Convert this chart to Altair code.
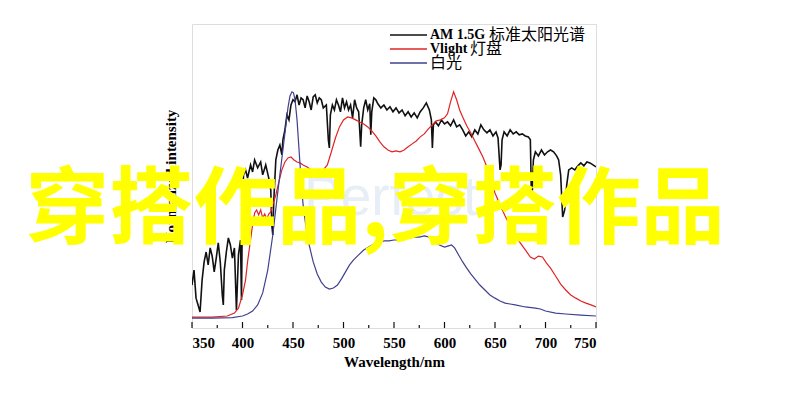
import altair as alt
import pandas as pd

# ---- data (arbitrary normalized units, white-light peak = 100) ----
wl_am = [350, 352, 354, 356, 358, 360, 362, 364, 366, 368, 370, 372, 374, 376, 378, 380, 381, 382, 384, 386,
         388, 390, 392, 394, 396, 398, 399, 400, 401, 403, 405, 408, 410, 412, 415, 418, 420, 423, 426, 428,
         429, 430, 431, 433, 435, 437, 439, 440, 442, 444, 446, 448, 450, 452, 454, 456, 458, 460, 462, 464,
         466, 468, 470, 472, 474, 476, 478, 480, 483, 485, 486, 487, 489, 491, 493, 495, 497, 499, 501, 503,
         505, 507, 509, 511, 513, 515, 517, 518, 520, 522, 524, 526, 527, 528, 530, 532, 534, 537, 540, 543,
         546, 549, 552, 555, 558, 561, 564, 567, 570, 573, 576, 579, 582, 585, 587, 588, 589, 591, 594, 597,
         600, 603, 606, 609, 612, 615, 618, 621, 624, 627, 630, 633, 636, 639, 642, 645, 648, 651, 653, 655,
         656, 657, 659, 662, 665, 668, 671, 674, 677, 680, 683, 685, 686, 687, 688, 690, 693, 696, 699, 702,
         705, 708, 711, 713, 715, 717, 719, 721, 723, 726, 729, 732, 735, 738, 741, 744, 747, 750]
am = [14.6, 21.2, 8.8, 5.8, 2.7, 16.8, 24.8, 29.2, 23.5, 31.0, 27.4, 20.4, 26.5, 33.2, 24.8, 10.2, 5.8, 21.2, 29.2, 35.4,
      32.3, 26.5, 31.0, 3.5, 27.9, 34.5, 8.0, 52.2, 63.3, 65.5, 61.9, 67.7, 64.6, 69.9, 66.4, 69.0, 63.3, 67.7, 61.9, 56.6,
      41.2, 36.7, 52.2, 69.9, 74.3, 76.5, 72.1, 78.8, 83.2, 89.8, 87.6, 94.2, 96.5, 95.6, 98.7, 94.2, 97.3, 96.5, 92.9, 98.2,
      95.6, 92.0, 97.8, 98.7, 95.1, 97.3, 96.5, 92.9, 94.2, 78.8, 75.2, 89.8, 94.2, 92.0, 96.5, 94.2, 91.2, 97.3, 92.9, 95.6,
      92.0, 94.2, 88.5, 96.5, 92.9, 91.2, 75.7, 85.4, 92.9, 96.5, 92.0, 94.7, 81.0, 91.2, 97.3, 96.5, 94.7, 92.9, 94.2, 92.0,
      93.4, 91.2, 92.9, 90.7, 92.0, 89.4, 91.2, 88.9, 90.7, 88.5, 91.2, 92.9, 95.1, 92.0, 87.6, 75.2, 85.4, 86.7, 85.0, 87.6,
      85.8, 86.7, 85.0, 87.6, 84.5, 85.4, 83.2, 80.5, 82.3, 80.1, 83.2, 81.4, 85.4, 83.2, 81.9, 83.2, 80.5, 82.3, 79.6, 65.5,
      67.7, 78.8, 82.3, 80.5, 83.2, 81.4, 82.3, 81.0, 81.4, 80.5, 80.1, 78.8, 55.3, 56.6, 69.9, 73.5, 71.7, 74.3, 72.1, 73.5,
      74.3, 73.5, 71.7, 69.9, 63.3, 44.7, 47.8, 58.8, 65.5, 66.4, 65.5, 67.3, 68.6, 67.3, 69.0, 68.6, 67.7, 66.8]

wl_vl = [350, 370, 385, 392, 396, 400, 403, 405, 407, 410, 412, 414, 416, 418, 420, 422, 424, 426, 428, 430,
         433, 436, 439, 442, 445, 448, 451, 454, 457, 460, 464, 468, 472, 476, 480, 484, 488, 492, 496, 500,
         504, 508, 512, 516, 520, 524, 528, 532, 536, 540, 544, 548, 552, 556, 560, 564, 568, 572, 576, 580,
         584, 588, 592, 596, 600, 603, 606, 609, 612, 615, 618, 622, 626, 630, 634, 638, 642, 646, 650, 655,
         660, 665, 670, 675, 680, 685, 689, 693, 697, 701, 705, 710, 715, 720, 725, 730, 735, 740, 745, 750]
vl = [0.4, 0.4, 0.9, 2.2, 4.4, 10.2, 16.8, 24.8, 31.4, 41.2, 46.5, 47.8, 45.6, 47.8, 44.2, 46.0, 43.8, 46.0, 46.9, 50.0,
      54.4, 60.2, 65.5, 69.0, 70.8, 71.2, 69.9, 69.0, 68.6, 67.7, 66.8, 65.5, 65.0, 65.5, 65.5, 67.7, 73.5, 79.6, 84.5, 87.6,
      88.9, 88.5, 87.6, 86.7, 85.8, 84.5, 82.7, 80.5, 77.9, 75.7, 74.3, 73.5, 73.9, 73.5, 74.3, 75.7, 77.0, 78.3, 80.1, 81.4,
      83.6, 85.4, 87.2, 87.6, 88.5, 90.3, 95.6, 100.0, 96.5, 92.0, 88.9, 85.0, 81.9, 78.3, 74.8, 71.2, 66.8, 61.1, 55.3, 50.0,
      45.1, 40.7, 36.3, 33.2, 30.1, 27.0, 26.1, 27.4, 27.0, 24.3, 22.1, 18.6, 15.0, 12.4, 10.2, 8.8, 7.5, 6.6, 5.8, 4.9]

wl_wh = [350, 370, 390, 400, 405, 410, 415, 420, 425, 430, 434, 437, 440, 443, 445, 447, 449, 450.5, 452, 454,
         456, 458, 460, 463, 466, 470, 474, 478, 482, 486, 490, 494, 498, 502, 506, 510, 515, 520, 525, 530,
         535, 540, 545, 550, 555, 560, 565, 570, 575, 580, 585, 590, 595, 600, 604, 607, 610, 614, 618, 622,
         626, 630, 635, 640, 645, 650, 655, 660, 665, 670, 680, 690, 695, 700, 710, 720, 735, 750]
wh = [0.0, 0.0, 0.2, 0.9, 1.8, 3.1, 5.8, 11.1, 21.2, 36.7, 52.2, 63.3, 74.3, 85.4, 92.9, 98.2, 100.0, 99.6, 96.5, 87.6,
      74.3, 61.1, 50.0, 39.8, 32.3, 24.8, 19.5, 15.9, 13.7, 12.8, 13.3, 14.6, 17.3, 20.4, 23.5, 25.7, 27.9, 30.1, 31.4, 32.7,
      33.2, 34.1, 34.1, 34.5, 34.5, 35.0, 35.4, 35.8, 35.8, 36.3, 35.8, 34.5, 32.3, 31.4, 31.9, 32.3, 31.0, 27.9, 24.8, 22.1,
      19.5, 17.3, 14.6, 12.4, 10.2, 8.8, 7.5, 6.6, 6.2, 5.8, 4.9, 4.4, 4.0, 3.1, 2.2, 1.8, 1.3, 0.9]

x_major = [350, 400, 450, 500, 550, 600, 650, 700, 750]
x_minor = [375, 425, 475, 525, 575, 625, 675, 725]
legend_latin = ["AM 1.5G", "Vlight", ""]
legend_cjk = ["标准太阳光谱", "灯盘", "白光"]
series_colors = ["#111111", "#e02424", "#40408f"]
x_title = "Wavelength/nm"
y_title = "Normalized intensity"
overlay_text = "穿搭作品,穿搭作品"
watermark_text = "Perfect"

W, H = 404, 304
SERIF = "Liberation Serif"
CJK = "Noto Sans CJK SC"

xs = alt.Scale(domain=[350, 750], nice=False, zero=False)
ys = alt.Scale(domain=[-4.4, 130], nice=False, zero=False)
x_axis = alt.Axis(values=x_major, title=x_title, ticks=False, tickSize=0, domain=False, grid=False,
                  labelPadding=7, titlePadding=4, labelFont=SERIF, labelFontWeight="bold",
                  labelFontSize=15, labelColor="#000", titleFont=SERIF, titleFontWeight="bold",
                  titleFontSize=15, titleColor="#000")
y_axis = alt.Axis(labels=False, ticks=False, tickSize=0, domain=False, grid=False, title=y_title,
                  titlePadding=14, titleFont=SERIF, titleFontWeight="bold", titleFontSize=15,
                  titleColor="#000")


def series(wl, vals, color, width):
    df = pd.DataFrame({"wl": wl, "v": vals})
    return alt.Chart(df).mark_line(color=color, strokeWidth=width, clip=True).encode(
        x=alt.X("wl:Q", scale=xs, axis=x_axis),
        y=alt.Y("v:Q", scale=ys, axis=y_axis),
    )


layers = []

wm = alt.Chart(pd.DataFrame({"t": [watermark_text]})).mark_text(
    font="Liberation Sans", fontSize=55, color="#dfe8f1", align="left", baseline="alphabetic", opacity=0.7
).encode(text="t:N", x=alt.value(112), y=alt.value(191))
layers.append(wm)

layers.append(series(wl_am, am, series_colors[0], 1.6))
layers.append(series(wl_vl, vl, series_colors[1], 1.2))
layers.append(series(wl_wh, wh, series_colors[2], 1.2))

maj = alt.Chart(pd.DataFrame({"wl": x_major})).mark_rule(color="#111", strokeWidth=1.2).encode(
    x=alt.X("wl:Q", scale=xs, axis=x_axis), y=alt.value(H), y2=alt.value(H - 6))
mnr = alt.Chart(pd.DataFrame({"wl": x_minor})).mark_rule(color="#111", strokeWidth=1.2).encode(
    x=alt.X("wl:Q", scale=xs, axis=x_axis), y=alt.value(H), y2=alt.value(H - 3))
layers += [maj, mnr]

row_y = [11, 25, 39]
cjk_x = [297, 278, 238]
for i in range(3):
    d = pd.DataFrame({"latin": [legend_latin[i]], "cjk": [legend_cjk[i]]})
    base = alt.Chart(d)
    layers.append(base.mark_rule(color=series_colors[i], strokeWidth=1.3).encode(
        x=alt.value(198), x2=alt.value(235), y=alt.value(row_y[i])))
    if legend_latin[i]:
        layers.append(base.mark_text(font=SERIF, fontWeight="bold", fontSize=14, color="#000",
                                     align="left", baseline="middle").encode(
            text="latin:N", x=alt.value(238), y=alt.value(row_y[i])))
    layers.append(base.mark_text(font=CJK, fontSize=16, color="#000", align="left",
                                 baseline="middle").encode(
        text="cjk:N", x=alt.value(cjk_x[i]), y=alt.value(row_y[i])))

ov = alt.Chart(pd.DataFrame({"t": [overlay_text]})).mark_text(
    font=CJK, fontWeight="bold", fontSize=84, color="#ffff00", align="center", baseline="middle"
).encode(text="t:N", x=alt.value(183), y=alt.value(188))
layers.append(ov)

chart = alt.layer(*layers).properties(
    width=W, height=H, autosize="none",
    padding={"left": 184, "top": 16, "right": 196, "bottom": 60},
).configure_view(stroke="#222", strokeWidth=1.5).configure(background="white")

chart.save("out.html", embed_options={"renderer": "svg", "actions": False})
